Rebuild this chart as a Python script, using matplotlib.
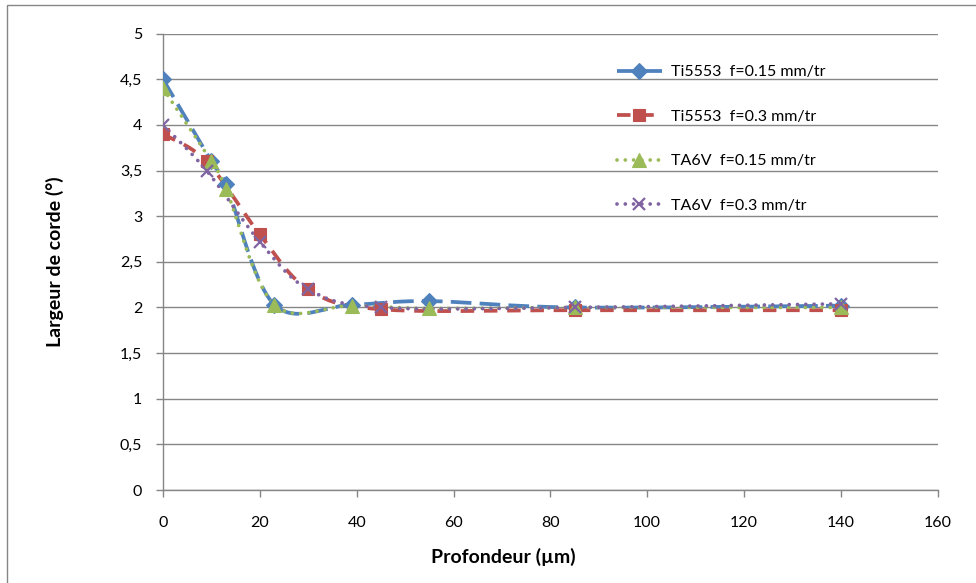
import numpy as np
import matplotlib
matplotlib.use("Agg")
import matplotlib.pyplot as plt
from matplotlib.patches import Rectangle
from matplotlib.ticker import FuncFormatter, MultipleLocator
from matplotlib.lines import Line2D

plt.rcParams['font.family'] = ['Lato', 'DejaVu Sans']

# ---- data ----
x_ti_015 = [0, 10, 13, 23, 39, 55, 85, 140]
y_ti_015 = [4.5, 3.6, 3.35, 2.03, 2.03, 2.07, 2.0, 2.02]

x_ti_03 = [0, 9, 20, 30, 45, 85, 140]
y_ti_03 = [3.9, 3.6, 2.8, 2.2, 1.98, 1.97, 1.97]

x_ta_015 = [0, 10, 13, 23, 39, 55, 85, 140]
y_ta_015 = [4.4, 3.6, 3.3, 2.03, 2.02, 1.99, 2.0, 2.0]

x_ta_03 = [0, 9, 20, 30, 45, 85, 140]
y_ta_03 = [4.0, 3.5, 2.72, 2.2, 2.0, 2.0, 2.04]

labels = ["Ti5553  f=0.15 mm/tr", "Ti5553  f=0.3 mm/tr",
          "TA6V  f=0.15 mm/tr", "TA6V  f=0.3 mm/tr"]

xlabel = "Profondeur (µm)"
ylabel = "Largeur de corde (°)"


def smooth(xs, ys, n=40):
    """Excel-like smoothed line (Catmull-Rom as cubic Bezier)."""
    P = np.column_stack([xs, ys]).astype(float)
    pts = [P[0]] + list(P) + [P[-1]]
    out = []
    t = np.linspace(0, 1, n)
    for i in range(1, len(pts) - 2):
        p0, p1, p2, p3 = pts[i - 1], pts[i], pts[i + 1], pts[i + 2]
        c1 = p1 + (p2 - p0) / 6.0
        c2 = p2 - (p3 - p1) / 6.0
        seg = ((1 - t) ** 3)[:, None] * p1 + (3 * (1 - t) ** 2 * t)[:, None] * c1 \
            + (3 * (1 - t) * t ** 2)[:, None] * c2 + (t ** 3)[:, None] * p2
        out.append(seg if i == 1 else seg[1:])
    s = np.vstack(out)
    return s[:, 0], s[:, 1]


W, H = 976, 583
fig = plt.figure(figsize=(W / 100, H / 100), dpi=100)
ax = fig.add_axes([163 / W, 1 - 490 / H, (937.7 - 163) / W, (490 - 33.7) / H])

gray = '#868686'
lw = 2.7
series = [
    (x_ti_015, y_ti_015, '#4F81BD', 'D', 8, (5.5, 2.2), 'butt'),
    (x_ti_03, y_ti_03, '#C0504D', 's', 8.5, (3.6, 2.6), 'butt'),
    (x_ta_015, y_ta_015, '#9BBB59', '^', 9.5, (0.01, 2.2), 'round'),
    (x_ta_03, y_ta_03, '#8064A2', 'x', 8.5, (0.01, 2.2), 'round'),
]

handles = []
for (xs, ys, col, mk, ms, dash, cap), lab in zip(series, labels):
    sx, sy = smooth(xs, ys)
    ax.plot(sx, sy, color=col, lw=lw, dashes=dash, dash_capstyle=cap, zorder=3)
    ax.plot(xs, ys, linestyle='none', marker=mk, markersize=ms, color=col,
            markeredgecolor=col, markeredgewidth=1.6 if mk == 'x' else 0.8, zorder=4)
    h = Line2D([0], [0], color=col, lw=lw, dashes=dash, dash_capstyle=cap,
               marker=mk, markersize=ms, markeredgecolor=col,
               markeredgewidth=1.6 if mk == 'x' else 0.8)
    handles.append(h)

ax.set_xlim(0, 160)
ax.set_ylim(0, 5)
ax.xaxis.set_major_locator(MultipleLocator(20))
ax.yaxis.set_major_locator(MultipleLocator(0.5))
ax.yaxis.set_major_formatter(FuncFormatter(lambda v, p: ('%g' % v).replace('.', ',')))
ax.grid(axis='y', color=gray, lw=1)
ax.set_axisbelow(True)
for s in ['top', 'right']:
    ax.spines[s].set_visible(False)
for s in ['left', 'bottom']:
    ax.spines[s].set_color(gray)
    ax.spines[s].set_linewidth(1)
ax.tick_params(axis='both', direction='out', length=5, width=1, color=gray,
               labelsize=11.5, labelcolor='black')
ax.tick_params(axis='x', pad=14)
ax.tick_params(axis='y', pad=10)

fig.text(503 / W, 1 - 557 / H, xlabel, ha='center', va='center',
         fontsize=14, fontweight='bold')
fig.text(55 / W, 1 - 262 / H, ylabel, ha='center', va='center',
         fontsize=14, fontweight='bold', rotation=90)

leg = fig.legend(handles=handles, labels=labels, loc='upper left',
                 bbox_to_anchor=(617 / W, 1 - 65 / H), frameon=False,
                 fontsize=11.5, handlelength=2.8, handletextpad=0.6,
                 labelspacing=1.9, borderpad=0, borderaxespad=0, numpoints=1)

fig.add_artist(Rectangle((7 / W, -0.1), 1.0, 1 - 5 / H + 0.1,
                         transform=fig.transFigure, fill=False,
                         edgecolor=gray, lw=1))

fig.savefig('out.png', dpi=100)
